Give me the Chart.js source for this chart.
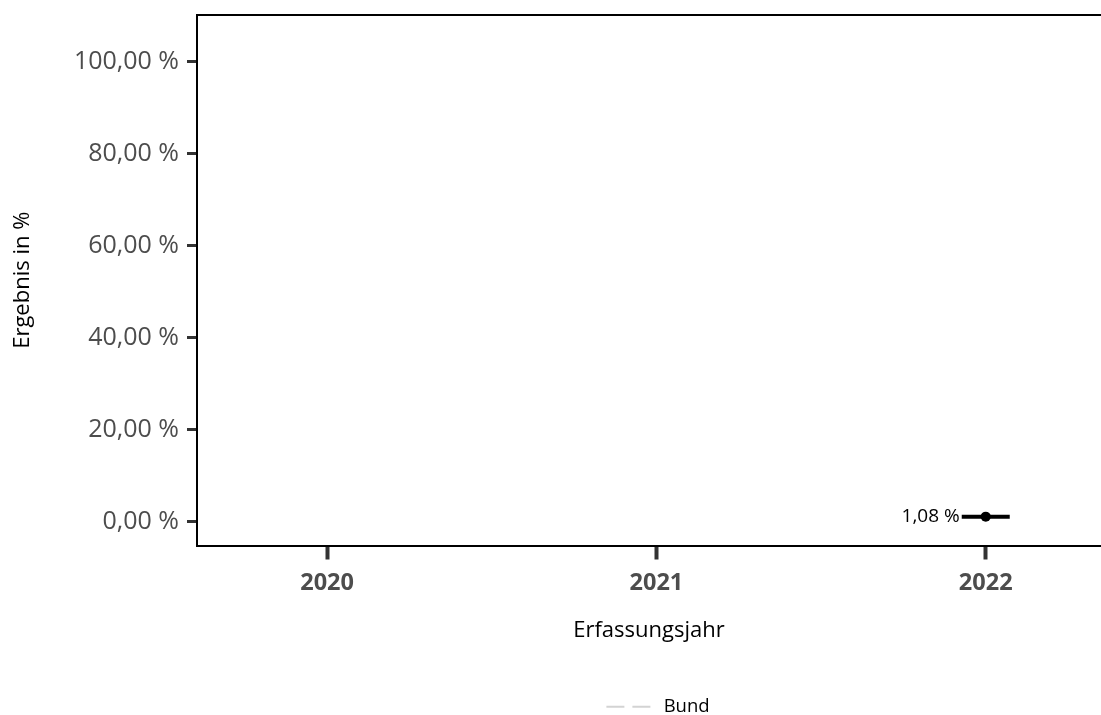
<!DOCTYPE html>
<html>
<head>
<meta charset="utf-8">
<script src="https://cdn.jsdelivr.net/npm/chart.js@4"></script>
<style>
  html, body { margin: 0; padding: 0; background: #fff; }
  #wrap { width: 1101px; height: 715px; }
</style>
</head>
<body>
<div id="wrap"><canvas id="chart" width="1101" height="715"></canvas></div>
<script>
  // data
  var years = [2020, 2021, 2022];
  var ergebnis = [null, null, 1.08];
  var bund = [];
  var yTicks = [0, 20, 40, 60, 80, 100];

  var FONT = '"Open Sans", sans-serif';

  function fmtPct(v){
    return v.toFixed(2).replace('.', ',') + ' %';
  }

  // no extra room for tick labels at the axis ends
  function noPadding(s){
    s.paddingLeft = 0; s.paddingRight = 0;
    s.paddingTop = 0; s.paddingBottom = 0;
  }

  // top border of plot area, value labels, legend moved under the plot centre
  var extras = {
    id: 'extras',
    afterLayout: function(chart){
      var lg = chart.legend;
      var a = chart.chartArea;
      var shift = (a.left + a.right) / 2 - (lg.left + lg.right) / 2 + 9;
      lg.left += shift;
      lg.right += shift;
      lg.top += 11;
      lg.bottom += 11;
    },
    afterDraw: function(chart){
      var ctx = chart.ctx;
      var a = chart.chartArea;
      ctx.save();
      ctx.strokeStyle = '#000';
      ctx.lineWidth = 2;
      ctx.beginPath();
      ctx.moveTo(a.left - 1, a.top);
      ctx.lineTo(a.right, a.top);
      ctx.stroke();

      var xs = chart.scales.x, ys = chart.scales.y;
      ctx.font = '19px ' + FONT;
      ctx.fillStyle = '#000';
      ctx.textAlign = 'right';
      ctx.textBaseline = 'middle';
      years.forEach(function(yr, i){
        if (ergebnis[i] == null) return;
        ctx.fillText(fmtPct(ergebnis[i]), xs.getPixelForValue(yr) - 26, ys.getPixelForValue(ergebnis[i]));
      });
      ctx.restore();
    }
  };

  var pts = years.map(function(y, i){ return {x: y, y: ergebnis[i]}; });

  new Chart(document.getElementById('chart'), {
    type: 'line',
    data: {
      datasets: [{
        label: 'Segment',
        data: pts,
        showLine: false,
        pointStyle: 'line',
        pointRadius: 24,
        pointHoverRadius: 24,
        pointBorderWidth: 4,
        borderColor: '#000',
        backgroundColor: '#000'
      }, {
        label: 'Ergebnis',
        data: pts,
        showLine: false,
        pointStyle: 'circle',
        pointRadius: 5,
        pointHoverRadius: 5,
        borderWidth: 0,
        borderColor: '#000',
        backgroundColor: '#000'
      }, {
        label: 'Bund',
        data: bund,
        borderColor: '#d3d3d3',
        backgroundColor: '#d3d3d3',
        borderDash: [12, 14],
        borderWidth: 2
      }]
    },
    options: {
      responsive: false,
      animation: false,
      layout: { autoPadding: false, padding: { top: 15, right: 0, left: 0, bottom: 0 } },
      plugins: {
        tooltip: { enabled: false },
        legend: {
          position: 'bottom',
          labels: {
            color: '#000',
            font: { family: FONT, size: 18.5 },
            boxWidth: 48,
            boxHeight: 0,
            padding: 6,
            generateLabels: function(chart){
              var ds = chart.data.datasets[2];
              return [{
                text: ds.label,
                strokeStyle: ds.borderColor,
                fillStyle: 'transparent',
                lineWidth: 2,
                lineDash: ds.borderDash,
                datasetIndex: 2
              }];
            }
          }
        }
      },
      scales: {
        x: {
          type: 'linear',
          min: 2019.605,
          max: 2022.35,
          afterBuildTicks: function(s){ s.ticks = years.map(function(v){ return {value: v}; }); },
          afterFit: function(s){
            s.height = 135;
            noPadding(s);
          },
          grid: { drawOnChartArea: false, tickLength: 14, tickWidth: 4, tickColor: '#333' },
          border: { color: '#000', width: 2 },
          ticks: {
            padding: 10,
            color: '#4d4d4d',
            font: { family: FONT, size: 23.5, weight: 'bold' },
            callback: function(v){ return String(v); }
          },
          title: {
            display: true,
            text: 'Erfassungsjahr',
            color: '#000',
            font: { family: FONT, size: 22 },
            padding: { top: 10, bottom: 37 }
          }
        },
        y: {
          min: -5.2,
          max: 110.2,
          afterBuildTicks: function(s){ s.ticks = yTicks.map(function(v){ return {value: v}; }); },
          afterFit: function(s){
            s.width = 197;
            noPadding(s);
          },
          grid: { drawOnChartArea: false, tickLength: 10, tickWidth: 3, tickColor: '#333' },
          border: { color: '#000', width: 2 },
          ticks: {
            padding: 8,
            color: '#4d4d4d',
            font: { family: FONT, size: 25 },
            callback: function(v){ return fmtPct(v); }
          },
          title: {
            display: true,
            text: 'Ergebnis in %',
            color: '#000',
            font: { family: FONT, size: 22 },
            padding: { top: 10, bottom: 0 }
          }
        }
      }
    },
    plugins: [extras]
  });
</script>
</body>
</html>
